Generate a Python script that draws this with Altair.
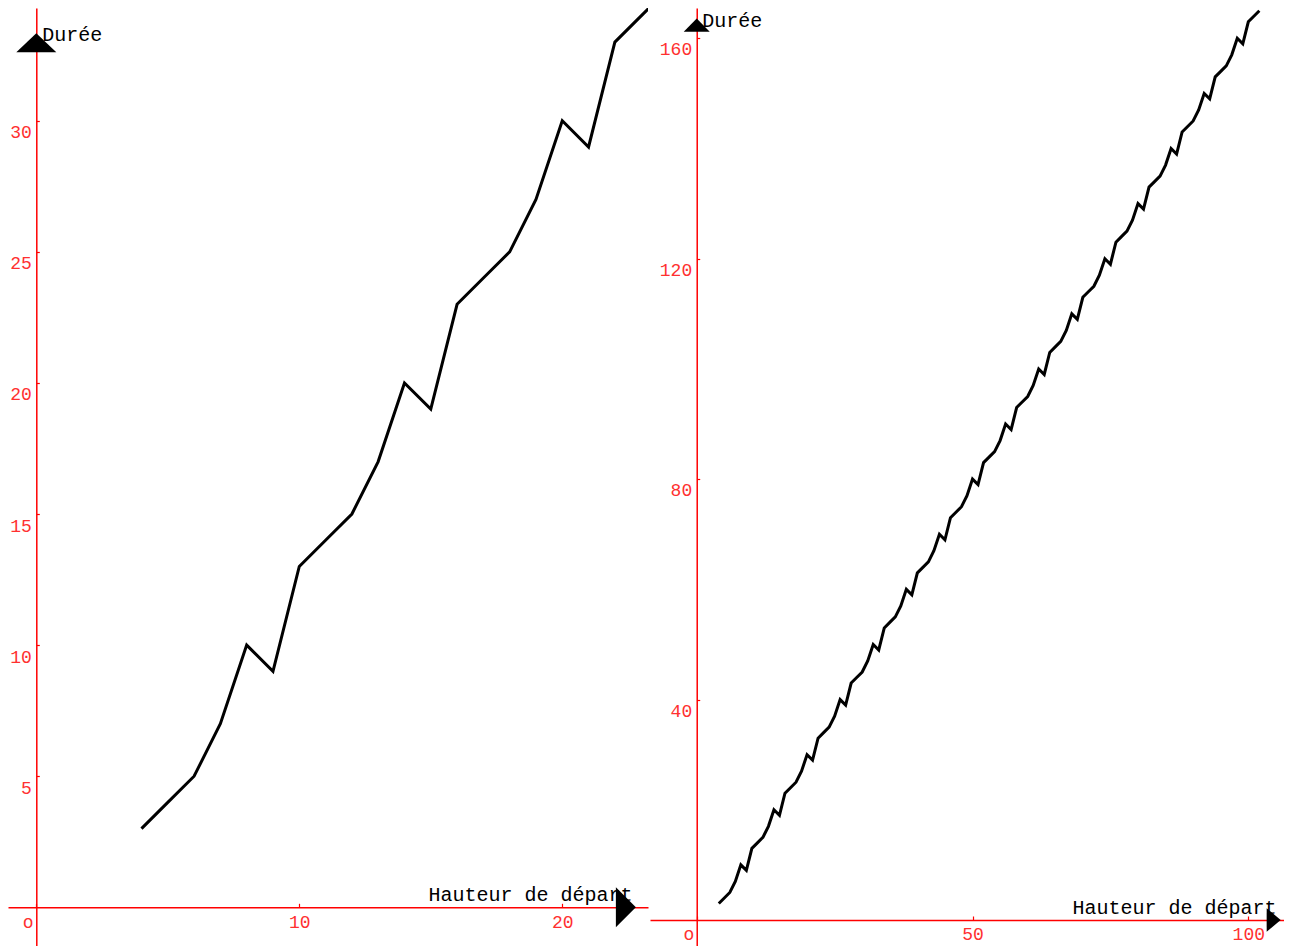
import altair as alt
import pandas as pd

# ---- data ----
hauteur = [4, 5, 6, 7, 8, 9,
           10, 11, 12, 13, 14, 15,
           16, 17, 18, 19, 20, 21,
           22, 23, 24, 25, 26, 27,
           28, 29, 30, 31, 32, 33,
           34, 35, 36, 37, 38, 39,
           40, 41, 42, 43, 44, 45,
           46, 47, 48, 49, 50, 51,
           52, 53, 54, 55, 56, 57,
           58, 59, 60, 61, 62, 63,
           64, 65, 66, 67, 68, 69,
           70, 71, 72, 73, 74, 75,
           76, 77, 78, 79, 80, 81,
           82, 83, 84, 85, 86, 87,
           88, 89, 90, 91, 92, 93,
           94, 95, 96, 97, 98, 99,
           100, 101, 102]
duree = [3, 4, 5, 7, 10, 9,
         13, 14, 15, 17, 20, 19,
         23, 24, 25, 27, 30, 29,
         33, 34, 35, 37, 40, 39,
         43, 44, 45, 47, 50, 49,
         53, 54, 55, 57, 60, 59,
         63, 64, 65, 67, 70, 69,
         73, 74, 75, 77, 80, 79,
         83, 84, 85, 87, 90, 89,
         93, 94, 95, 97, 100, 99,
         103, 104, 105, 107, 110, 109,
         113, 114, 115, 117, 120, 119,
         123, 124, 125, 127, 130, 129,
         133, 134, 135, 137, 140, 139,
         143, 144, 145, 147, 150, 149,
         153, 154, 155, 157, 160, 159,
         163, 164, 165]

left_last_hauteur = 24

left_x_ticks = [0, 10, 20]
left_y_ticks = [5, 10, 15, 20, 25, 30]
right_x_ticks = [0, 50, 100]
right_y_ticks = [40, 80, 120, 160]

x_title = "Hauteur de départ"
y_title = "Durée"

# ---- styling / layout ----
FONT = "Liberation Mono"
AXIS_RED = "#ff0000"
LABEL_RED = "#ff3030"
H = 938

df = pd.DataFrame({"h": hauteur, "d": duree})
df_left = df[df["h"] <= left_last_hauteur]


def panel(data, W, xdom, ydom, xticks, yticks, xlab_dy, zero_dx, ylab_dy,
          xtitle_x, xtitle_y, ytitle_x, ytitle_y, arrows, clip):
    x0 = W * (0 - xdom[0]) / (xdom[1] - xdom[0])
    y0 = H * (ydom[1] - 0) / (ydom[1] - ydom[0])
    xscale = alt.Scale(domain=xdom, nice=False, zero=False)
    yscale = alt.Scale(domain=ydom, nice=False, zero=False)
    xaxis = alt.Axis(
        orient="top", offset=-y0, values=xticks, title=x_title, grid=False,
        domainColor=AXIS_RED, domainWidth=1.5,
        tickColor=AXIS_RED, tickSize=4, tickWidth=1.2,
        labelColor=LABEL_RED, labelFont=FONT, labelFontSize=18,
        labelBaseline="middle", labelAlign="center",
        labelPadding=-(4 + xlab_dy), labelOverlap=False, labelFlush=False,
        labelBound=False,
        labelOffset={"condition": {"test": "datum.value === 0", "value": zero_dx}, "value": 0},
        labelExpr="datum.value === 0 ? 'o' : datum.label",
        titleFont=FONT, titleFontSize=20, titleFontWeight="normal",
        titleColor="black", titleAngle=0, titleAlign="right",
        titleBaseline="alphabetic", titleX=xtitle_x, titleY=xtitle_y,
    )
    yaxis = alt.Axis(
        orient="right", offset=-(W - x0), values=yticks, title=y_title, grid=False,
        domainColor=AXIS_RED, domainWidth=1.5,
        tickColor=AXIS_RED, tickSize=3, tickWidth=1.2,
        labelColor=LABEL_RED, labelFont=FONT, labelFontSize=18,
        labelBaseline="middle", labelAlign="right",
        labelPadding=-(3 + 5), labelOffset=ylab_dy,
        labelOverlap=False, labelFlush=False, labelBound=False,
        titleFont=FONT, titleFontSize=20, titleFontWeight="normal",
        titleColor="black", titleAngle=0, titleAlign="left",
        titleBaseline="alphabetic", titleX=ytitle_x, titleY=ytitle_y,
    )
    line = alt.Chart(data).mark_line(
        color="black", strokeWidth=3, clip=clip
    ).encode(
        x=alt.X("h:Q", scale=xscale, axis=xaxis),
        y=alt.Y("d:Q", scale=yscale, axis=yaxis),
    )
    layers = [line]
    for ax, ay, shape, size in arrows:
        layers.append(
            alt.Chart(pd.DataFrame({"h": [ax], "d": [ay]})).mark_point(
                shape=shape, size=size, filled=True, color="black",
                opacity=1, strokeWidth=0,
            ).encode(
                x=alt.X("h:Q", scale=xscale, axis=xaxis),
                y=alt.Y("d:Q", scale=yscale, axis=yaxis),
            )
        )
    return alt.layer(*layers).properties(width=W, height=H)


left = panel(
    df_left, 640,
    xdom=[-1.076, 23.26], ydom=[-1.476, 34.30],
    xticks=left_x_ticks, yticks=left_y_ticks,
    xlab_dy=14.7, zero_dx=-8.6, ylab_dy=12,
    xtitle_x=624, xtitle_y=-7.3, ytitle_x=5.5, ytitle_y=32.7,
    arrows=[
        (0, 33.34, "M0,0L1,0.95L-1,0.95Z", 1600),
        (22.80, 0, "M0,0L-1,-1L-1,1Z", 1600),
    ],
    clip=True,
)

right = panel(
    df, 634,
    xdom=[-8.47, 106.47], ydom=[-4.72, 165.5],
    xticks=right_x_ticks, yticks=right_y_ticks,
    xlab_dy=15, zero_dx=-8.4, ylab_dy=11.5,
    xtitle_x=626, xtitle_y=-6.7, ytitle_x=5, ytitle_y=18,
    arrows=[
        (0, 163.6, "M0,0L1,1.03L-1,1.03Z", 676),
        (105.87, 0, "M0,0L-1.2,-1L-1.2,1Z", 547),
    ],
    clip=True,
)

chart = alt.hconcat(left, right, spacing=2).properties(
    padding=0, background="white"
).configure_view(stroke=None)

chart.save("out.html", embed_options={"renderer": "svg", "actions": False})
